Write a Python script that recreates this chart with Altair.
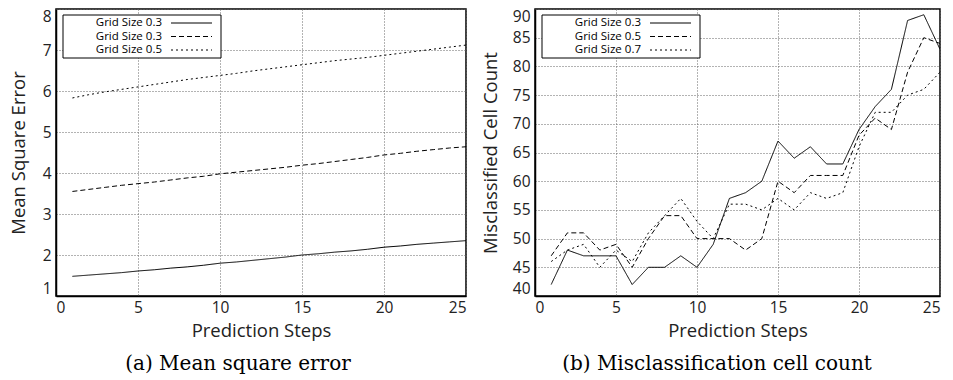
import altair as alt
import pandas as pd

steps = list(range(1, 26))

# Panel (a): mean square error
mse_solid = [1.48, 1.51, 1.54, 1.57, 1.61, 1.64, 1.68, 1.71, 1.75, 1.80, 1.83, 1.87, 1.91,
             1.95, 2.00, 2.03, 2.07, 2.10, 2.14, 2.19, 2.22, 2.26, 2.29, 2.32, 2.35]
mse_dashed = [3.55, 3.60, 3.65, 3.70, 3.74, 3.78, 3.83, 3.88, 3.92, 3.98, 4.02, 4.06, 4.10,
              4.14, 4.19, 4.23, 4.28, 4.33, 4.38, 4.44, 4.48, 4.53, 4.57, 4.61, 4.64]
mse_dotted = [5.83, 5.91, 5.98, 6.04, 6.10, 6.16, 6.22, 6.28, 6.33, 6.38, 6.43, 6.49, 6.54,
              6.59, 6.64, 6.69, 6.74, 6.78, 6.82, 6.87, 6.92, 6.97, 7.02, 7.07, 7.12]
mse_labels = ["Grid Size 0.3", "Grid Size 0.3", "Grid Size 0.5"]

# Panel (b): misclassified cell count
mis_03 = [42, 48, 47, 47, 47, 42, 45, 45, 47, 45, 49, 57, 58, 60, 67, 64, 66, 63, 63, 69, 73, 76, 88, 89, 83]
mis_05 = [47, 51, 51, 48, 49, 45, 50, 54, 54, 50, 50, 50, 48, 50, 60, 58, 61, 61, 61, 68, 71, 69, 79, 85, 84]
mis_07 = [46, 48, 49, 45, 48, 46, 51, 54, 57, 53, 50, 56, 56, 55, 57, 55, 58, 57, 58, 66, 72, 72, 75, 76, 79]
mis_labels = ["Grid Size 0.3", "Grid Size 0.5", "Grid Size 0.7"]

x_ticks = [0, 5, 10, 15, 20, 25]
mse_ticks = [1, 2, 3, 4, 5, 6, 7, 8]
mis_ticks = [40, 45, 50, 55, 60, 65, 70, 75, 80, 85, 90]

captions = ["(a) Mean square error", "(b) Misclassification cell count"]

DASHES = [[1, 0], [5, 3], [2, 3]]
KEYS = ["s0", "s1", "s2"]
H = 287
SANS = "Open Sans"


def long_df(series):
    rows = []
    for k, vals in zip(KEYS, series):
        for s, v in zip(steps, vals):
            rows.append({"step": s, "value": v, "series": k})
    return pd.DataFrame(rows)


def panel(series, labels, ydom, yticks, ytitle, title_x, caption, leg_top, width):
    df = long_df(series)
    lines = alt.Chart(df).mark_line(color="black", strokeWidth=1, clip=True).encode(
        x=alt.X("step:Q", scale=alt.Scale(domain=[0, 25], nice=False),
                axis=alt.Axis(values=x_ticks, title="Prediction Steps", titleY=34,
                              titleBaseline="middle")),
        y=alt.Y("value:Q", scale=alt.Scale(domain=ydom, nice=False, zero=False),
                axis=alt.Axis(values=yticks, title=ytitle, titleX=title_x,
                              titleBaseline="middle", labelFlush=True)),
        strokeDash=alt.StrokeDash("series:N", scale=alt.Scale(domain=KEYS, range=DASHES),
                                  legend=None),
    )
    one = pd.DataFrame({"k": [0]})
    layers = [lines]
    box = alt.Chart(one).mark_rect(fill="white", stroke="black", strokeWidth=1).encode(
        x=alt.value(7), x2=alt.value(165), y=alt.value(leg_top), y2=alt.value(leg_top + 43))
    layers.append(box)
    for i, (lab, dash) in enumerate(zip(labels, DASHES)):
        yy = leg_top + 8 + i * 13.5
        layers.append(alt.Chart(one).mark_text(align="right", baseline="middle", fontSize=11.5,
                                               font=SANS, color="black").encode(
            x=alt.value(106), y=alt.value(yy), text=alt.value(lab)))
        layers.append(alt.Chart(one).mark_rule(color="black", strokeWidth=1,
                                               strokeDash=dash).encode(
            x=alt.value(115), x2=alt.value(156), y=alt.value(yy)))
    layers.append(alt.Chart(one).mark_text(align="center", baseline="middle", fontSize=20,
                                           font="DejaVu Serif", color="black").encode(
        x=alt.value(182), y=alt.value(355), text=alt.value(caption)))
    return alt.layer(*layers).properties(width=width, height=H)


left = panel([mse_solid, mse_dashed, mse_dotted], mse_labels, [1, 8], mse_ticks,
             "Mean Square Error", -38, captions[0], 6, 410)
right = panel([mis_03, mis_05, mis_07], mis_labels, [40, 90], mis_ticks,
              "Misclassified Cell Count", -45, captions[1], 6, 405)

chart = alt.hconcat(left, right, spacing=13).properties(
    padding={"top": 0, "left": 0, "right": 0, "bottom": 0}
).configure_view(stroke="black", strokeWidth=1.5).configure_axis(
    grid=True, gridColor="#666", gridDash=[1, 2], gridWidth=1,
    domainColor="black", domainWidth=1.5, ticks=False,
    labelFont=SANS, labelFontSize=15.5, labelColor="#222", labelPadding=4,
    titleFont=SANS, titleFontSize=18.5, titleFontWeight="normal", titleColor="#222",
).configure_axisY(labelPadding=5)

chart.save("out.html", embed_options={"renderer": "svg", "actions": False})
